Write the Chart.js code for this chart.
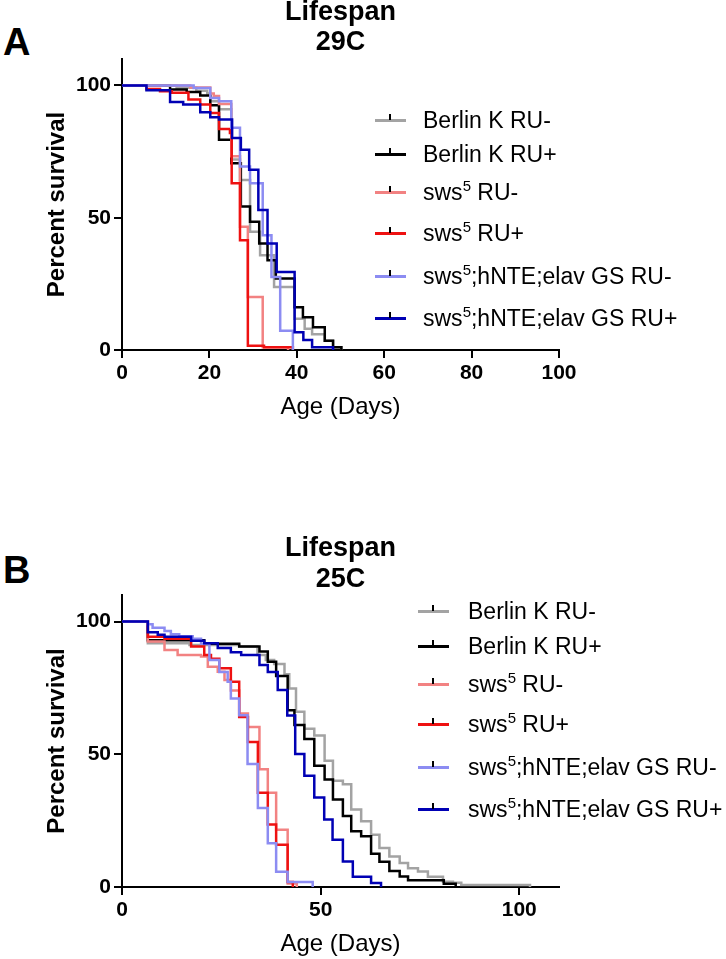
<!doctype html>
<html lang="en">
<head>
<meta charset="utf-8">
<title>Lifespan 29C / 25C</title>
<script src="https://cdn.jsdelivr.net/npm/chart.js@4.4.1/dist/chart.umd.min.js"></script>
<style>
    body { margin: 0; background: #fff; font-family: "Liberation Sans", Arial, sans-serif; color: #000; }
    #page { position: relative; width: 726px; height: 959px; overflow: hidden; }
    canvas { position: absolute; left: 0; }
    .panel { position: absolute; left: 3px; font-weight: bold; font-size: 38px; line-height: 38px; }
    .row { position: absolute; height: 26px; line-height: 26px; font-size: 23px; white-space: nowrap; }
    .row sup { font-size: 15px; vertical-align: 9px; line-height: 0; }
    .swatch { position: absolute; width: 31px; height: 3px; }
    .swatch i { position: absolute; left: 14px; top: -5px; width: 2px; height: 6px; background: #000; }
</style>
</head>
<body>
<div id="page">
    <div class="panel" style="top:23px">A</div>
    <div class="panel" style="top:551px">B</div>
    <canvas id="chartA" width="726" height="450" style="top:-10px"></canvas>
    <canvas id="chartB" width="726" height="479" style="top:480px"></canvas>
    <div id="legendA"></div>
    <div id="legendB"></div>
</div>

<script>
// series names (legend order)
var seriesLabels = ['Berlin K RU-', 'Berlin K RU+', 'sws<sup>5</sup> RU-', 'sws<sup>5</sup> RU+',
    'sws<sup>5</sup>;hNTE;elav GS RU-', 'sws<sup>5</sup>;hNTE;elav GS RU+'];

// Kaplan-Meier steps, [day, percent survival] -- 29C
var berlinMinus29 = [[0,100],[12.5,99.1],[17,98],[19.5,97],[20.2,94],[22.2,91],[25,72],[27,64.3],[29.3,44.7],[31.6,35.8],[34.8,23.8],[39.5,11.8],[41.8,8],[43.5,6],[46.4,3.5],[48.3,1],[50.2,0]];
var berlinPlus29 = [[0,100],[11,98.5],[14.8,97.5],[17.9,96.2],[20.2,92.5],[22.2,79.5],[25,70.6],[27.2,54.2],[29.3,48.5],[31.4,40.3],[33.3,33.9],[35.2,27],[39.5,16.2],[41.4,12.4],[43.7,8.6],[46.4,3.5],[48.3,1],[50.2,0]];
var swsMinus29 = [[0,100],[15.6,99.2],[20.2,97],[21,96],[22.2,93],[25,73.2],[27,46.6],[28.8,20],[32.2,1],[38,0]];
var swsPlus29 = [[0,100],[5.6,98.7],[8.7,97.8],[11.4,97.2],[15.2,94.7],[17.9,92.8],[20.2,89.6],[22.2,83.5],[24.7,82],[25.1,63],[27,41.5],[28.8,1.6],[32.5,1],[39.1,0]];
var rescueMinus29 = [[0,100],[16.4,99],[20.2,95.3],[22.2,94],[25,84],[27,69.4],[29.3,63],[32.2,43.4],[34.2,27.6],[36.2,7.3],[39.1,0]];
var rescuePlus29 = [[0,100],[5.6,98.2],[11,93.7],[14,92.8],[17.9,89.9],[20.2,88],[22.2,87.1],[25.2,80.1],[27.2,75.7],[29.1,68.1],[31.2,52.9],[33.3,40.3],[35.4,29.5],[39.5,6.7],[41.5,3.8],[43.5,1],[48.3,0]];

// 25C
var berlinMinus25 = [[0,100],[6.5,91.8],[17,91.2],[29.5,90.6],[34.1,87.4],[36.2,85.5],[38.3,84],[40.9,80.1],[42.1,74.8],[43.8,66],[45.9,59.6],[48.4,57.1],[51,47.6],[53.1,40],[55.6,38.7],[57.7,29.2],[60.2,24.8],[62.7,19.7],[64.8,14.7],[67.3,11.5],[69.9,9],[72,7.1],[74.5,5.8],[77,3.9],[80.8,2],[83.3,1.6],[85.4,0.8],[102.7,0]];
var berlinPlus25 = [[0,100],[6.5,93],[20.7,91.6],[29.5,90.6],[34.6,88.7],[36.7,84.9],[38.8,79.5],[41.7,66.6],[43.4,61],[45.9,55.8],[48.4,45.7],[51,40.5],[53.1,33],[55.6,26.7],[57.7,21],[60.2,19.1],[62.7,12.5],[64.8,9.5],[67.3,6],[69.9,4],[72,2.5],[81,1.2],[84,0]];
var swsMinus25 = [[0,100],[6.5,92.5],[10.7,89.3],[14,87.4],[19.9,86.8],[21.6,83],[24.1,81.1],[25.8,78],[27.4,74],[29.5,65.4],[31.7,60.3],[34.6,44.4],[36.7,35.5],[38.8,21.6],[41.7,1.3],[44,0]];
var swsPlus25 = [[0,100],[6.5,94.3],[10.7,93.5],[17.4,90.6],[20.7,87.4],[22.4,86],[24.5,82.4],[27.4,77.3],[29.5,64],[31.7,54.6],[34.2,35.5],[36.7,23.5],[38.8,15.9],[41.7,1.9],[43,0]];
var rescueMinus25 = [[0,100],[6.5,99],[7.7,97.7],[10.7,96.4],[12.3,95.2],[14.4,94.5],[17.8,93.5],[19.9,91.6],[22,85.5],[24.5,81],[26.6,77.3],[27.4,71],[29.5,64.7],[31.6,46.3],[34.2,29.8],[36.7,16.5],[38.8,5.7],[41.7,1.9],[48,0]];
var rescuePlus25 = [[0,100],[6.5,96],[9,95],[10.7,94.3],[17.4,92.8],[20.7,91.8],[24.1,90],[27.4,88.4],[30,87.4],[34.6,83.6],[36.7,81],[39.2,74.2],[41.6,64.6],[43.6,50.1],[45.9,41.9],[48.4,33.7],[50.9,25.4],[53,17.8],[55.6,9.6],[58.1,3.9],[62.7,1.5],[65.2,0]];

var seriesColors = ['#a3a3a3', '#000000', '#f28282', '#ee1111', '#8c8cf2', '#0000b4'];
var FONT = "'Liberation Sans', Arial, sans-serif";

function toPoints(arr) {
    return arr.map(function (p) { return { x: p[0], y: p[1] }; });
}

function makeChart(id, series, cfg) {
    var datasets = [];
    for (var i = 0; i < series.length; i++) {
        datasets.push({
            label: seriesLabels[i].replace(/<\/?sup>/g, ''),
            data: toPoints(series[i]),
            borderColor: seriesColors[i],
            borderWidth: 2.5,
            stepped: true,
            pointRadius: 0,
            fill: false,
            order: series.length - i   // dark blue drawn last (on top)
        });
    }
    var axisGrid = { drawOnChartArea: false, drawTicks: true, tickLength: 8, color: '#000', lineWidth: 2 };
    return new Chart(document.getElementById(id), {
        type: 'line',
        data: { datasets: datasets },
        options: {
            responsive: false,
            animation: false,
            layout: { padding: { left: 10, right: 167, top: 0, bottom: 0 } },
            plugins: {
                legend: { display: false },
                tooltip: { enabled: false },
                title: {
                    display: true,
                    fullSize: false,
                    text: cfg.title,
                    color: '#000',
                    font: { family: FONT, size: 27, weight: 'bold', lineHeight: cfg.titleLH },
                    padding: cfg.titlePad
                }
            },
            scales: {
                x: {
                    type: 'linear',
                    min: 0, max: cfg.xMax,
                    grid: axisGrid,
                    border: { color: '#000', width: 2 },
                    ticks: { stepSize: cfg.xStep, includeBounds: false, color: '#000', padding: 3,
                        maxRotation: 0, font: { family: FONT, size: 21, weight: 'bold' } },
                    title: { display: true, text: 'Age (Days)', color: '#000',
                        font: { family: FONT, size: 24 }, padding: { top: 0, bottom: cfg.xTitlePad } },
                    afterFit: function (s) { s.height = cfg.xHeight; }
                },
                y: {
                    min: 0, max: 110,
                    grid: axisGrid,
                    border: { color: '#000', width: 2 },
                    ticks: { stepSize: 50, includeBounds: false, color: '#000', padding: 3,
                        font: { family: FONT, size: 21, weight: 'bold' } },
                    title: { display: true, text: 'Percent survival', color: '#000',
                        font: { family: FONT, size: 24, weight: 'bold' }, padding: { top: 33, bottom: 0 } },
                    afterFit: function (s) { s.width = 112; }
                }
            }
        }
    });
}

function buildLegend(id, rowsY, swatchX, textX) {
    var box = document.getElementById(id);
    for (var i = 0; i < seriesLabels.length; i++) {
        var sw = document.createElement('div');
        sw.className = 'swatch';
        sw.style.left = swatchX + 'px';
        sw.style.top = (rowsY[i] - 1.5) + 'px';
        sw.style.background = seriesColors[i];
        sw.appendChild(document.createElement('i'));
        box.appendChild(sw);

        var row = document.createElement('div');
        row.className = 'row';
        row.style.left = textX + 'px';
        row.style.top = (rowsY[i] - 13) + 'px';
        row.innerHTML = seriesLabels[i];
        box.appendChild(row);
    }
}

makeChart('chartA', [berlinMinus29, berlinPlus29, swsMinus29, swsPlus29, rescueMinus29, rescuePlus29], {
    title: ['Lifespan', '29C'], titleLH: 30 / 27, titlePad: { top: 8, bottom: 1 },
    xMax: 100, xStep: 20, xHeight: 90, xTitlePad: 18.6
});
makeChart('chartB', [berlinMinus25, berlinPlus25, swsMinus25, swsPlus25, rescueMinus25, rescuePlus25], {
    title: ['Lifespan', '25C'], titleLH: 31 / 27, titlePad: { top: 53, bottom: 0 },
    xMax: 110, xStep: 50, xHeight: 72, xTitlePad: 0.6
});

buildLegend('legendA', [120, 154, 192, 233, 276, 318], 375, 423);
buildLegend('legendB', [611, 646, 684, 724, 767, 809], 418, 468);
</script>
</body>
</html>
